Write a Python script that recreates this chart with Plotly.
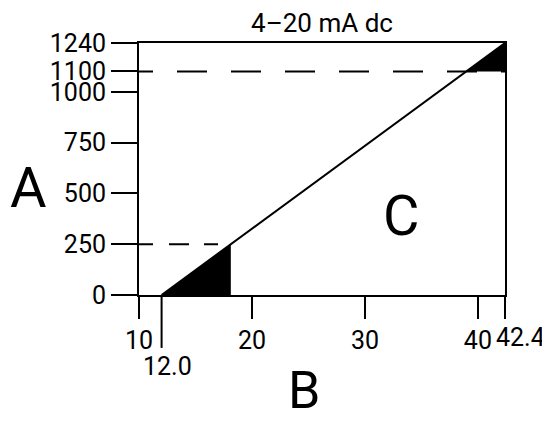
import numpy as np
import plotly.graph_objects as go

# axis B (input) and axis A (output) ticks
X_TICKS = [10, 20, 30, 40, 42.4]
X_TICK_TEXT = ["10", "20", "30", "40", ""]
X_END_LABEL = "42.4"
Y_TICKS = [0, 250, 500, 750, 1000, 1100, 1240]
Y_TICK_TEXT = ["0", "250", "500", "750", "1000", "1100", "1240"]

B_RANGE = [10, 42.4]
A_RANGE = [0, 1240]

# the ramp: output A rises from 0 at B = 12.0 to 1240 at B = 42.4
RAMP_B = [12.0, 42.4]
RAMP_A = [0, 1240]
B_START_LABEL = "12.0"

LOW_MARK = 250
HIGH_MARK = 1100

TITLE = "4–20 mA dc"
FONT = "Roboto"
INK = "#000000"
TICK_SIZE = 25

b_low = float(np.interp(LOW_MARK, RAMP_A, RAMP_B))
b_high = float(np.interp(HIGH_MARK, RAMP_A, RAMP_B))

fig = go.Figure()

# black wedges at both ends of the ramp
fig.add_scatter(
    x=[RAMP_B[0], b_low, b_low, RAMP_B[0]],
    y=[RAMP_A[0], RAMP_A[0], LOW_MARK, RAMP_A[0]],
    mode="lines", fill="toself", fillcolor=INK,
    line={"width": 0, "color": INK}, hoverinfo="skip",
)
fig.add_scatter(
    x=[b_high, RAMP_B[1], RAMP_B[1], b_high],
    y=[HIGH_MARK, HIGH_MARK, RAMP_A[1], HIGH_MARK],
    mode="lines", fill="toself", fillcolor=INK,
    line={"width": 0, "color": INK}, hoverinfo="skip",
)

# dashed guide lines
fig.add_scatter(
    x=[B_RANGE[0], b_low], y=[LOW_MARK, LOW_MARK], mode="lines",
    line={"color": INK, "width": 2, "dash": "14px,16px,20px,15px"},
    hoverinfo="skip",
)
fig.add_scatter(
    x=[B_RANGE[0], B_RANGE[1]], y=[HIGH_MARK, HIGH_MARK], mode="lines",
    line={"color": INK, "width": 2,
          "dash": "14px,24px" + ",30px,24px" * 7},
    hoverinfo="skip",
)

# the ramp itself
fig.add_scatter(
    x=RAMP_B, y=RAMP_A, mode="lines",
    line={"color": INK, "width": 2}, hoverinfo="skip",
)

tick_font = {"family": FONT, "size": TICK_SIZE, "color": INK}

# longer tick and lowered label for the ramp start
fig.add_shape(
    type="line", xref="x", yref="paper",
    x0=RAMP_B[0], x1=RAMP_B[0], y0=0, y1=-0.21,
    line={"color": INK, "width": 2},
)
fig.add_annotation(
    x=RAMP_B[0], xref="x", y=-0.282, yref="paper", xshift=6,
    text=B_START_LABEL, showarrow=False, xanchor="center", yanchor="middle",
    font=tick_font,
)
# end label, nudged right so it clears "40"
fig.add_annotation(
    x=RAMP_B[1], xref="x", y=-0.167, yref="paper", xshift=-11,
    text=X_END_LABEL, showarrow=False, xanchor="left", yanchor="middle",
    font=tick_font,
)

big = {"family": FONT, "size": 56, "color": INK}
for label, px, py, size in [("A", -0.303, 0.425, 56), ("B", 0.451, -0.377, 52),
                            ("C", 0.716, 0.313, 56)]:
    fig.add_annotation(x=px, y=py, xref="paper", yref="paper", text=label,
                       showarrow=False, xanchor="center", yanchor="middle",
                       font={**big, "size": size})

axis_common = {
    "showgrid": False,
    "zeroline": False,
    "showline": True,
    "linecolor": INK,
    "linewidth": 2,
    "mirror": True,
    "ticks": "outside",
    "tickwidth": 2,
    "tickcolor": INK,
    "tickangle": 0,
    "tickfont": tick_font,
}

fig.update_xaxes(range=B_RANGE, tickvals=X_TICKS, ticktext=X_TICK_TEXT,
                 ticklen=22, **axis_common)
fig.update_yaxes(range=A_RANGE, tickvals=Y_TICKS, ticktext=Y_TICK_TEXT,
                 ticklen=26, **axis_common)

fig.update_layout(
    width=542,
    height=414,
    margin={"l": 131, "r": 45, "t": 35, "b": 127},
    plot_bgcolor="white",
    paper_bgcolor="white",
    showlegend=False,
    title={"text": TITLE, "x": 0.5, "xref": "paper", "y": 0.964,
           "yanchor": "middle", "xanchor": "center",
           "font": {"family": FONT, "size": 26, "color": INK}},
)

fig.write_html("out.html")
